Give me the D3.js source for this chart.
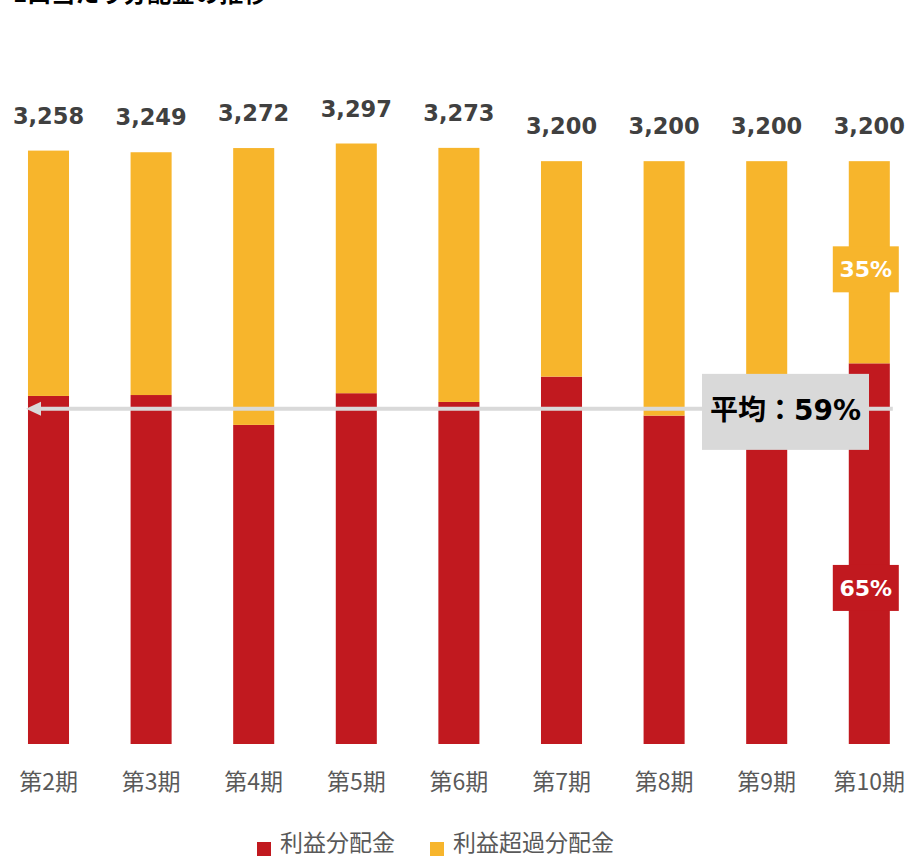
<!DOCTYPE html>
<html>
<head>
<meta charset="utf-8">
<script src="https://cdn.jsdelivr.net/npm/d3@7"></script>
<style>
  html, body { margin: 0; padding: 0; background: #fff; }
  svg { display: block; }
</style>
</head>
<body>
<svg id="chart" width="909" height="857"></svg>
<script>
// 分配金の推移 — stacked bars (利益分配金 / 利益超過分配金)

const periods = ["第2期", "第3期", "第4期", "第5期", "第6期", "第7期", "第8期", "第9期", "第10期"];
const totals  = [3258, 3249, 3272, 3297, 3273, 3200, 3200, 3200, 3200];
const profit  = [1911, 1916, 1752, 1926, 1878, 2017, 1803, 1900, 2090];   // 利益分配金
const excess  = totals.map((t, i) => t - profit[i]);                      // 利益超過分配金
const seriesNames = ["利益分配金", "利益超過分配金"];
const avgLabel = "平均：59%";
const avgLineValue = 1840;          // position of the average arrow, yen
const lastShares = ["65%", "35%"];  // share labels on 第10期
const titleText = "1口当たり分配金の推移";

const RED = "#c1191f", YELLOW = "#f7b52c";

const svg = d3.select("#chart");

const x = d3.scaleBand()
  .domain(periods)
  .range([-2.8, 920.6])
  .paddingInner(0.6)
  .paddingOuter(0.3);

const y = d3.scaleLinear()
  .domain([0, 3297])
  .range([744, 143.5]);

// title (cropped at the top edge in the original)
svg.append("text")
  .attr("x", 13).attr("y", 2)
  .attr("font-family", "'Noto Sans CJK JP', sans-serif")
  .attr("font-weight", "bold")
  .attr("font-size", 24)
  .attr("fill", "#000")
  .text(titleText);

// bars
const rows = periods.map((p, i) => ({ p, profit: profit[i], excess: excess[i], total: totals[i] }));
const bars = svg.append("g");
bars.selectAll("rect.profit")
  .data(rows).enter().append("rect")
  .attr("class", "profit")
  .attr("x", d => x(d.p))
  .attr("width", x.bandwidth())
  .attr("y", d => y(d.profit))
  .attr("height", d => y(0) - y(d.profit))
  .attr("fill", RED);
bars.selectAll("rect.excess")
  .data(rows).enter().append("rect")
  .attr("class", "excess")
  .attr("x", d => x(d.p))
  .attr("width", x.bandwidth())
  .attr("y", d => y(d.total))
  .attr("height", d => y(d.profit) - y(d.total))
  .attr("fill", YELLOW);

// total labels
svg.append("g").selectAll("text")
  .data(rows).enter().append("text")
  .attr("x", d => x(d.p) + x.bandwidth() / 2)
  .attr("y", d => y(d.total) - 27)
  .attr("text-anchor", "middle")
  .attr("font-family", "'DejaVu Sans', sans-serif")
  .attr("font-weight", "bold")
  .attr("font-size", 22.5)
  .attr("fill", "#404040")
  .text(d => d3.format(",")(d.total));

// x axis labels
const xAxis = d3.axisBottom(x).tickSize(0).tickPadding(0);
const gx = svg.append("g")
  .attr("transform", `translate(0,${y(0)})`)
  .call(xAxis);
gx.select(".domain").remove();
gx.selectAll("text")
  .attr("y", 46)
  .attr("dy", null)
  .attr("font-family", "'Noto Sans CJK JP', sans-serif")
  .attr("font-size", 23)
  .attr("fill", "#595959");

// average arrow line
const lineY = y(avgLineValue);
const x0 = x(periods[0]) - 2;
const x1 = x(periods[periods.length - 1]) + x.bandwidth() + 3;
svg.append("line")
  .attr("x1", x0 + 12).attr("x2", x1)
  .attr("y1", lineY).attr("y2", lineY)
  .attr("stroke", "#d9d9d9")
  .attr("stroke-width", 4);
svg.append("path")
  .attr("d", `M${x0},${lineY} L${x0 + 15},${lineY - 7} L${x0 + 15},${lineY + 7} Z`)
  .attr("fill", "#d9d9d9");

// average label box
const avgG = svg.append("g");
avgG.append("rect")
  .attr("x", 702).attr("y", lineY - 35)
  .attr("width", 167).attr("height", 76)
  .attr("fill", "#d9d9d9");
avgG.append("text")
  .attr("x", 785.5).attr("y", lineY + 11)
  .attr("text-anchor", "middle")
  .attr("font-family", "'DejaVu Sans', 'Noto Sans CJK JP', sans-serif")
  .attr("font-weight", "bold")
  .attr("font-size", 28)
  .attr("fill", "#000")
  .text(avgLabel);

// share labels on the last bar
const last = rows[rows.length - 1];
const cx = x(last.p) + x.bandwidth() / 2 - 3.5;
const shareData = [
  { text: lastShares[0], cy: y(last.profit * 0.41), fill: RED },
  { text: lastShares[1], cy: y(last.profit + last.excess * 0.465), fill: YELLOW },
];
const shares = svg.append("g").selectAll("g")
  .data(shareData).enter().append("g");
shares.append("rect")
  .attr("x", cx - 33).attr("y", d => d.cy - 23)
  .attr("width", 66).attr("height", 46)
  .attr("fill", d => d.fill);
shares.append("text")
  .attr("x", cx).attr("y", d => d.cy + 8)
  .attr("text-anchor", "middle")
  .attr("font-family", "'DejaVu Sans', sans-serif")
  .attr("font-weight", "bold")
  .attr("font-size", 22)
  .attr("fill", "#fff")
  .text(d => d.text);

// legend
const legend = svg.append("g");
const legendItems = [
  { name: seriesNames[0], color: RED, x: 257 },
  { name: seriesNames[1], color: YELLOW, x: 430 },
];
const li = legend.selectAll("g").data(legendItems).enter().append("g")
  .attr("transform", d => `translate(${d.x},0)`);
li.append("rect")
  .attr("x", 0).attr("y", 842)
  .attr("width", 14).attr("height", 14)
  .attr("fill", d => d.color);
li.append("text")
  .attr("x", 23).attr("y", 851)
  .attr("font-family", "'Noto Sans CJK JP', sans-serif")
  .attr("font-size", 23)
  .attr("fill", "#595959")
  .text(d => d.name);
</script>
</body>
</html>
